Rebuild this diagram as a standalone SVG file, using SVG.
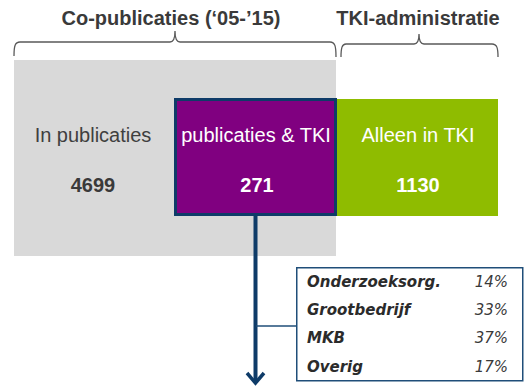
<svg xmlns="http://www.w3.org/2000/svg" width="524" height="386" viewBox="0 0 524 386">
<defs>
<style>
.title{font-family:"Liberation Sans",Arial,sans-serif;font-size:20px;font-weight:bold;fill:#3a3a3a;text-anchor:middle}
.lbl{font-family:"Liberation Sans",Arial,sans-serif;font-size:20px;text-anchor:middle}
.num{font-family:"Liberation Sans",Arial,sans-serif;font-size:20px;font-weight:bold;text-anchor:middle}
.brace{fill:none;stroke:#595959;stroke-width:1.3}
.cat{font-family:"DejaVu Sans",Verdana,sans-serif;font-size:15px;font-weight:bold;font-style:italic;fill:#2b2b2b}
.pct{font-family:"DejaVu Sans",Verdana,sans-serif;font-size:15px;font-style:italic;fill:#3a3a3a;text-anchor:end}
</style>
</defs>
<rect width="524" height="386" fill="#ffffff"/>
<g id="header-copub">
<text class="title" x="171" y="25">Co-publicaties (‘05-’15)</text>
<path class="brace" d="M14,56 C14,46 15,42 20,42 L170,42 C173,42 175,40 175,31 C175,40 177,42 180,42 L330,42 C335,42 336,46 336,57"/>
</g>
<g id="header-tki">
<text class="title" x="418" y="25">TKI-administratie</text>
<path class="brace" d="M341,57 C341,48 342,44 346,44 L414,44 C417,44 419,42 419,34 C419,42 421,44 424,44 L492,44 C497,44 498,48 498,57"/>
</g>
<g id="in-publicaties">
<rect x="14" y="60" width="322" height="196" fill="#d9d9d9"/>
<text class="lbl" x="93" y="142" fill="#3f3f3f">In publicaties</text>
<text class="num" x="93" y="192" fill="#3a3a3a">4699</text>
</g>
<g id="alleen-tki">
<rect x="336" y="99" width="162" height="117" fill="#8fbc00"/>
<text class="lbl" x="418" y="142" fill="#ffffff">Alleen in TKI</text>
<text class="num" x="418" y="192" fill="#ffffff">1130</text>
</g>
<g id="publicaties-tki">
<rect x="175.5" y="99.5" width="160" height="115" fill="#800080" stroke="#0e3b68" stroke-width="3"/>
<text class="lbl" x="256" y="142" fill="#ffffff">publicaties &amp; TKI</text>
<text class="num" x="257" y="192" fill="#ffffff">271</text>
</g>
<g id="connectors">
<line x1="255.5" y1="216" x2="255.5" y2="383" stroke="#0e3b68" stroke-width="4"/>
<polyline points="247,373 255.5,383 264,373" fill="none" stroke="#0e3b68" stroke-width="3.5" stroke-linejoin="miter"/>
<line x1="256" y1="326" x2="296" y2="326" stroke="#1f4e79" stroke-width="1.5"/>
</g>
<g id="verdeling">
<rect x="296.75" y="267.75" width="226" height="113" fill="#ffffff" stroke="#1f4e79" stroke-width="1.5"/>
<text class="cat" x="307" y="287">Onderzoeksorg.</text>
<text class="pct" x="508" y="287">14%</text>
<text class="cat" x="307" y="315">Grootbedrijf</text>
<text class="pct" x="508" y="315">33%</text>
<text class="cat" x="307" y="343">MKB</text>
<text class="pct" x="508" y="343">37%</text>
<text class="cat" x="307" y="372">Overig</text>
<text class="pct" x="508" y="372">17%</text>
</g>
</svg>
